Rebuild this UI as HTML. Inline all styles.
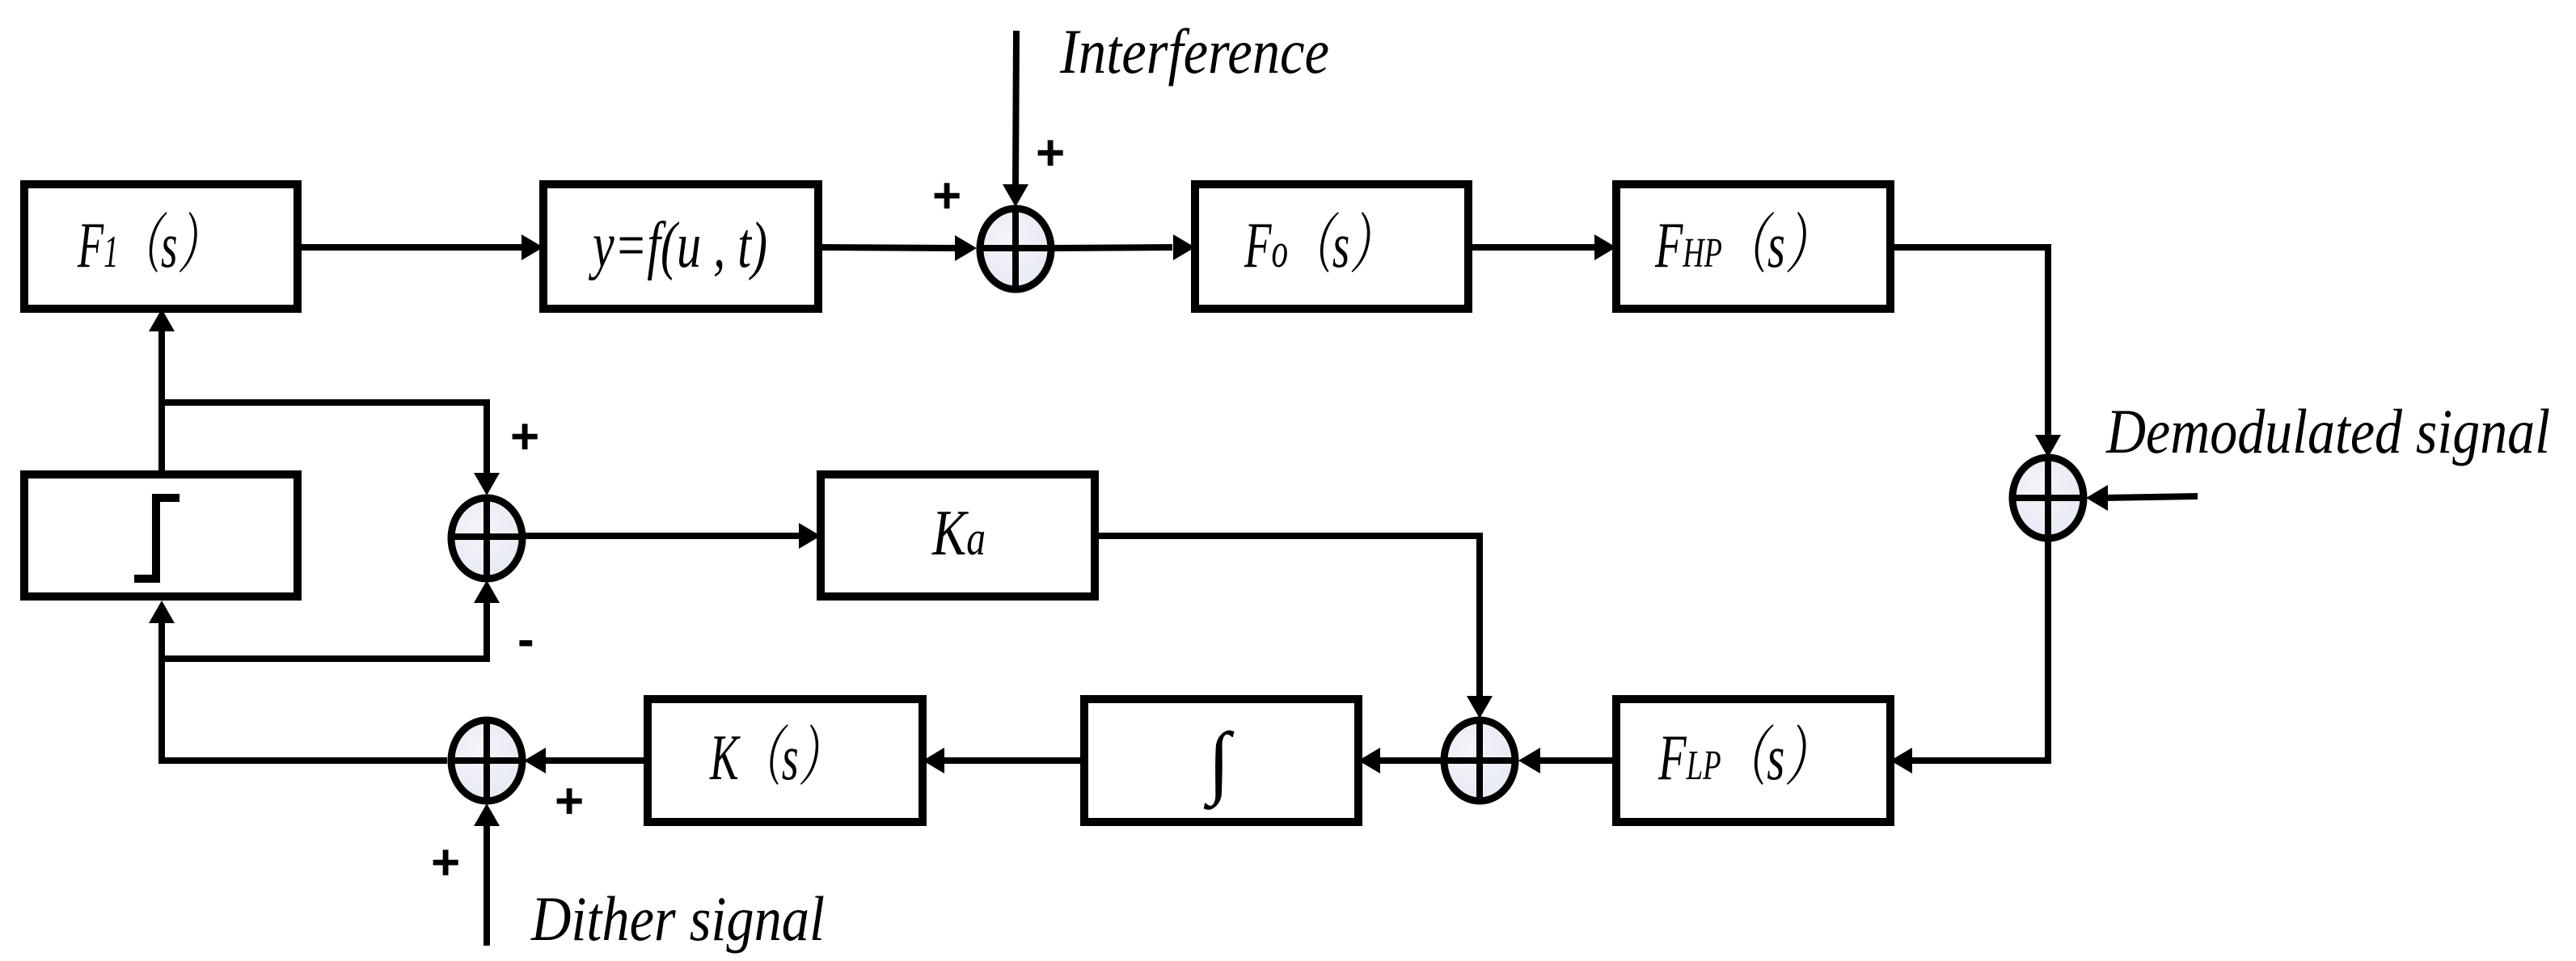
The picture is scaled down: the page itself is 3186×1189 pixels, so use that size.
<!DOCTYPE html>
<html><head><meta charset="utf-8"><style>
html,body{margin:0;padding:0;background:#fff;}
svg{display:block;}
text{font-family:"Liberation Serif","Noto Serif CJK SC",serif;font-style:italic;fill:#000;}
.p{font-family:"Liberation Sans",sans-serif;font-style:normal;font-size:62px;font-weight:bold;}
</style></head><body>
<svg width="3186" height="1189" viewBox="0 0 3186 1189" xmlns="http://www.w3.org/2000/svg">
<defs>
<radialGradient id="g" cx="0.4" cy="0.4" r="0.7"><stop offset="0" stop-color="#f4f5fa"/><stop offset="1" stop-color="#e6e8f2"/></radialGradient>
</defs>
<g fill="none" stroke="#000" stroke-width="10">
<rect x="30" y="228" width="338" height="154"/>
<rect x="672" y="228" width="340" height="154"/>
<rect x="1478" y="228" width="338" height="154"/>
<rect x="1999" y="228" width="339" height="154"/>
<rect x="30" y="587" width="338" height="151"/>
<rect x="1015" y="587" width="339" height="151"/>
<rect x="801" y="865" width="340" height="152"/>
<rect x="1341" y="865" width="339" height="152"/>
<rect x="1999" y="865" width="339" height="152"/>
</g>
<polyline points="166,716 193,716 193,616 222,616" fill="none" stroke="#000" stroke-width="10"/>
<g fill="none" stroke="#000" stroke-width="8">
<line x1="368" y1="306" x2="645" y2="306"/>
<line x1="1012" y1="306" x2="1185" y2="307"/>
<line x1="1300" y1="307" x2="1450" y2="306"/>
<line x1="1257" y1="38" x2="1256" y2="230"/>
<line x1="1816" y1="306" x2="1972" y2="306"/>
<polyline points="2338,306 2533,306 2533,540"/>
<line x1="2718" y1="614" x2="2600" y2="616"/>
<polyline points="2533,666 2533,941 2365,941"/>
<line x1="1999" y1="941" x2="1903" y2="941"/>
<line x1="1782" y1="941" x2="1707" y2="941"/>
<line x1="1341" y1="941" x2="1168" y2="941"/>
<line x1="801" y1="941" x2="675" y2="941"/>
<polyline points="553,941 200,941 200,770"/>
<polyline points="200,815 602,815 602,745"/>
<line x1="200" y1="587" x2="200" y2="410"/>
<polyline points="200,498 602,498 602,590"/>
<line x1="650" y1="663" x2="988" y2="663"/>
<polyline points="1354,663 1830,663 1830,862"/>
<line x1="602" y1="1170" x2="602" y2="1020"/>
</g>
<g fill="#000">
<polygon points="672,306 645,290 645,322"/>
<polygon points="1208,307 1181,291 1181,323"/>
<polygon points="1478,306 1451,290 1451,322"/>
<polygon points="1256,256 1240,228 1272,228"/>
<polygon points="1999,306 1972,290 1972,322"/>
<polygon points="2533,566 2517,538 2549,538"/>
<polygon points="2580,616 2607,600 2607,632"/>
<polygon points="2338,941 2365,925 2365,957"/>
<polygon points="1878,941 1905,925 1905,957"/>
<polygon points="1680,941 1707,925 1707,957"/>
<polygon points="1141,941 1168,925 1168,957"/>
<polygon points="648,941 675,925 675,957"/>
<polygon points="200,743 184,771 216,771"/>
<polygon points="602,718 586,746 618,746"/>
<polygon points="200,382 184,410 216,410"/>
<polygon points="602,613 586,585 618,585"/>
<polygon points="1015,663 988,647 988,679"/>
<polygon points="1830,889 1814,861 1846,861"/>
<polygon points="602,994 586,1022 618,1022"/>
</g>
<g stroke="#000" stroke-width="9" fill="url(#g)">
<ellipse cx="1256" cy="308" rx="44" ry="50"/>
<ellipse cx="2533" cy="616" rx="44" ry="50"/>
<ellipse cx="602" cy="666" rx="44" ry="50"/>
<ellipse cx="1830" cy="941" rx="44" ry="50"/>
<ellipse cx="602" cy="941" rx="44" ry="50"/>
</g>
<g stroke="#000" stroke-width="8">
<line x1="1212" y1="307" x2="1300" y2="307"/><line x1="1256" y1="258" x2="1256" y2="358"/>
<line x1="2489" y1="616" x2="2577" y2="616"/><line x1="2533" y1="566" x2="2533" y2="666"/>
<line x1="558" y1="664" x2="646" y2="664"/><line x1="602" y1="616" x2="602" y2="716"/>
<line x1="1786" y1="941" x2="1874" y2="941"/><line x1="1830" y1="891" x2="1830" y2="991"/>
<line x1="558" y1="941" x2="646" y2="941"/><line x1="602" y1="891" x2="602" y2="991"/>
</g>
<g font-size="80">
<text x="96" y="330" textLength="176" lengthAdjust="spacingAndGlyphs">F<tspan font-size="56">1</tspan>（s）</text>
<text x="733" y="330" textLength="216" lengthAdjust="spacingAndGlyphs">y=f(u , t)</text>
<text x="1539" y="330" textLength="185" lengthAdjust="spacingAndGlyphs">F<tspan font-size="60">o</tspan>（s）</text>
<text x="2047" y="330" textLength="217" lengthAdjust="spacingAndGlyphs">F<tspan font-size="52">HP</tspan>（s）</text>
<text x="1153" y="686" textLength="66" lengthAdjust="spacingAndGlyphs">K<tspan font-size="60">a</tspan></text>
<text x="878" y="964" textLength="163" lengthAdjust="spacingAndGlyphs">K（s）</text>
<text x="1494" y="975" font-size="100">∫</text>
<text x="2051" y="964" textLength="213" lengthAdjust="spacingAndGlyphs">F<tspan font-size="52">LP</tspan>（s）</text>
</g>
<g font-size="78">
<text x="1311" y="90" textLength="333" lengthAdjust="spacingAndGlyphs">Interference</text>
<text x="2605" y="560" textLength="549" lengthAdjust="spacingAndGlyphs">Demodulated signal</text>
<text x="657" y="1163" textLength="363" lengthAdjust="spacingAndGlyphs">Dither signal</text>
</g>
<text class="p" x="1281" y="210">+</text>
<text class="p" x="1153" y="263">+</text>
<text class="p" x="631" y="561">+</text>
<text class="p" x="640" y="812">-</text>
<text class="p" x="686" y="1012">+</text>
<text class="p" x="533" y="1088">+</text>
</svg>
</body></html>
